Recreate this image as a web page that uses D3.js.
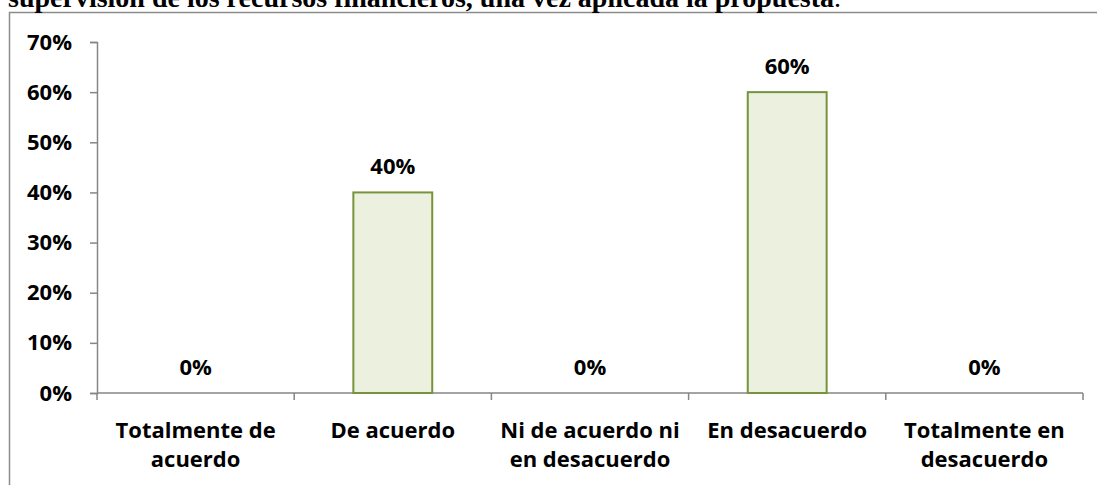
<!DOCTYPE html>
<html lang="es">
<head>
<meta charset="utf-8">
<script src="https://cdn.jsdelivr.net/npm/d3@7"></script>
<style>
  html, body { margin: 0; padding: 0; background: #fff; }
  svg { display: block; }
  .title { font-family: "Liberation Serif", "Times New Roman", serif; font-weight: bold; font-size: 28px; fill: #000; }
  .lbl { font-family: "Open Sans", sans-serif; font-weight: bold; font-size: 22px; fill: #000; }
</style>
</head>
<body>
<div id="chart"></div>
<script>
// chart values
const categories = [
  'Totalmente de acuerdo',
  'De acuerdo',
  'Ni de acuerdo ni en desacuerdo',
  'En desacuerdo',
  'Totalmente en desacuerdo',
];
const values = [0, 0.4, 0, 0.6, 0];
const yTicks = [0, 0.1, 0.2, 0.3, 0.4, 0.5, 0.6, 0.7];
const titleText = 'supervisión de los recursos financieros, una vez aplicada la propuesta';

const WIDTH = 1097;
const HEIGHT = 485;
const PLOT = { left: 97, right: 1083, top: 42, bottom: 393 };
const AXIS_COLOR = '#868686';

const svg = d3.select('#chart')
  .append('svg')
  .attr('width', WIDTH)
  .attr('height', HEIGHT);

// outer chart frame (right and bottom edges fall outside the picture)
svg.append('rect')
  .attr('x', 9.5)
  .attr('y', 12.5)
  .attr('width', WIDTH)
  .attr('height', HEIGHT)
  .attr('fill', 'none')
  .attr('stroke', '#8c8c8c')
  .attr('stroke-width', 1.5);

// caption above the frame, cut by the top edge
const title = svg.append('text')
  .attr('class', 'title')
  .attr('x', 8)
  .attr('y', 7);
title.append('tspan').text(titleText);
title.append('tspan').attr('font-weight', 'normal').text('.');

const x = d3.scaleBand()
  .domain(categories)
  .range([PLOT.left, PLOT.right])
  .paddingInner(0.6)
  .paddingOuter(0.3);

const y = d3.scaleLinear()
  .domain([0, 0.7])
  .range([PLOT.bottom, PLOT.top]);

const pct = d3.format('.0%');

// y axis
const yAxis = svg.append('g')
  .attr('transform', `translate(${PLOT.left},0)`)
  .call(d3.axisLeft(y).tickValues(yTicks).tickFormat(pct).tickSize(7).tickPadding(18));
yAxis.select('.domain').attr('stroke', AXIS_COLOR).attr('stroke-width', 1.5);
yAxis.selectAll('.tick line').attr('stroke', AXIS_COLOR).attr('stroke-width', 1.5);
yAxis.selectAll('.tick text').attr('class', 'lbl').attr('font-size', null).attr('font-family', null);
yAxis.attr('font-size', null).attr('font-family', null);

// x axis: line plus ticks on the category boundaries
const step = x.step();
const x0 = x.range()[0];
const boundaries = d3.range(categories.length + 1).map((i) => x0 + i * step);

svg.append('line')
  .attr('x1', PLOT.left)
  .attr('x2', PLOT.right)
  .attr('y1', y(0))
  .attr('y2', y(0))
  .attr('stroke', AXIS_COLOR)
  .attr('stroke-width', 1.5);

svg.append('g')
  .selectAll('line')
  .data(boundaries)
  .join('line')
  .attr('x1', (d) => d)
  .attr('x2', (d) => d)
  .attr('y1', y(0))
  .attr('y2', y(0) + 7)
  .attr('stroke', AXIS_COLOR)
  .attr('stroke-width', 1.5);

// bars
svg.append('g')
  .selectAll('rect')
  .data(values.map((v, i) => ({ cat: categories[i], v })).filter((d) => d.v > 0))
  .join('rect')
  .attr('x', (d) => x(d.cat))
  .attr('y', (d) => y(d.v))
  .attr('width', x.bandwidth())
  .attr('height', (d) => y(0) - y(d.v))
  .attr('fill', '#ebf1de')
  .attr('stroke', '#77933c')
  .attr('stroke-width', 2);

// value labels above each bar
svg.append('g')
  .selectAll('text')
  .data(values.map((v, i) => ({ cat: categories[i], v })))
  .join('text')
  .attr('class', 'lbl')
  .attr('text-anchor', 'middle')
  .attr('x', (d) => x(d.cat) + x.bandwidth() / 2)
  .attr('y', (d) => y(d.v) - 26)
  .attr('dy', '0.35em')
  .text((d) => pct(d.v));

// category labels, wrapped to fit one band
const catLabels = svg.append('g')
  .selectAll('text')
  .data(categories)
  .join('text')
  .attr('class', 'lbl')
  .attr('text-anchor', 'middle')
  .attr('x', (d) => x(d) + x.bandwidth() / 2)
  .attr('y', 438);

catLabels.each(function (d) {
  wrapText(d3.select(this), d, step - 4, 29);
});

function wrapText(textSel, str, maxWidth, lineHeight) {
  const cx = textSel.attr('x');
  const words = str.split(/\s+/);
  let line = [];
  let lineNo = 0;
  let tspan = textSel.append('tspan').attr('x', cx).attr('dy', 0);
  for (const word of words) {
    line.push(word);
    tspan.text(line.join(' '));
    if (tspan.node().getComputedTextLength() > maxWidth && line.length > 1) {
      line.pop();
      tspan.text(line.join(' '));
      line = [word];
      lineNo += 1;
      tspan = textSel.append('tspan').attr('x', cx).attr('dy', lineHeight).text(word);
    }
  }
}
</script>
</body>
</html>
